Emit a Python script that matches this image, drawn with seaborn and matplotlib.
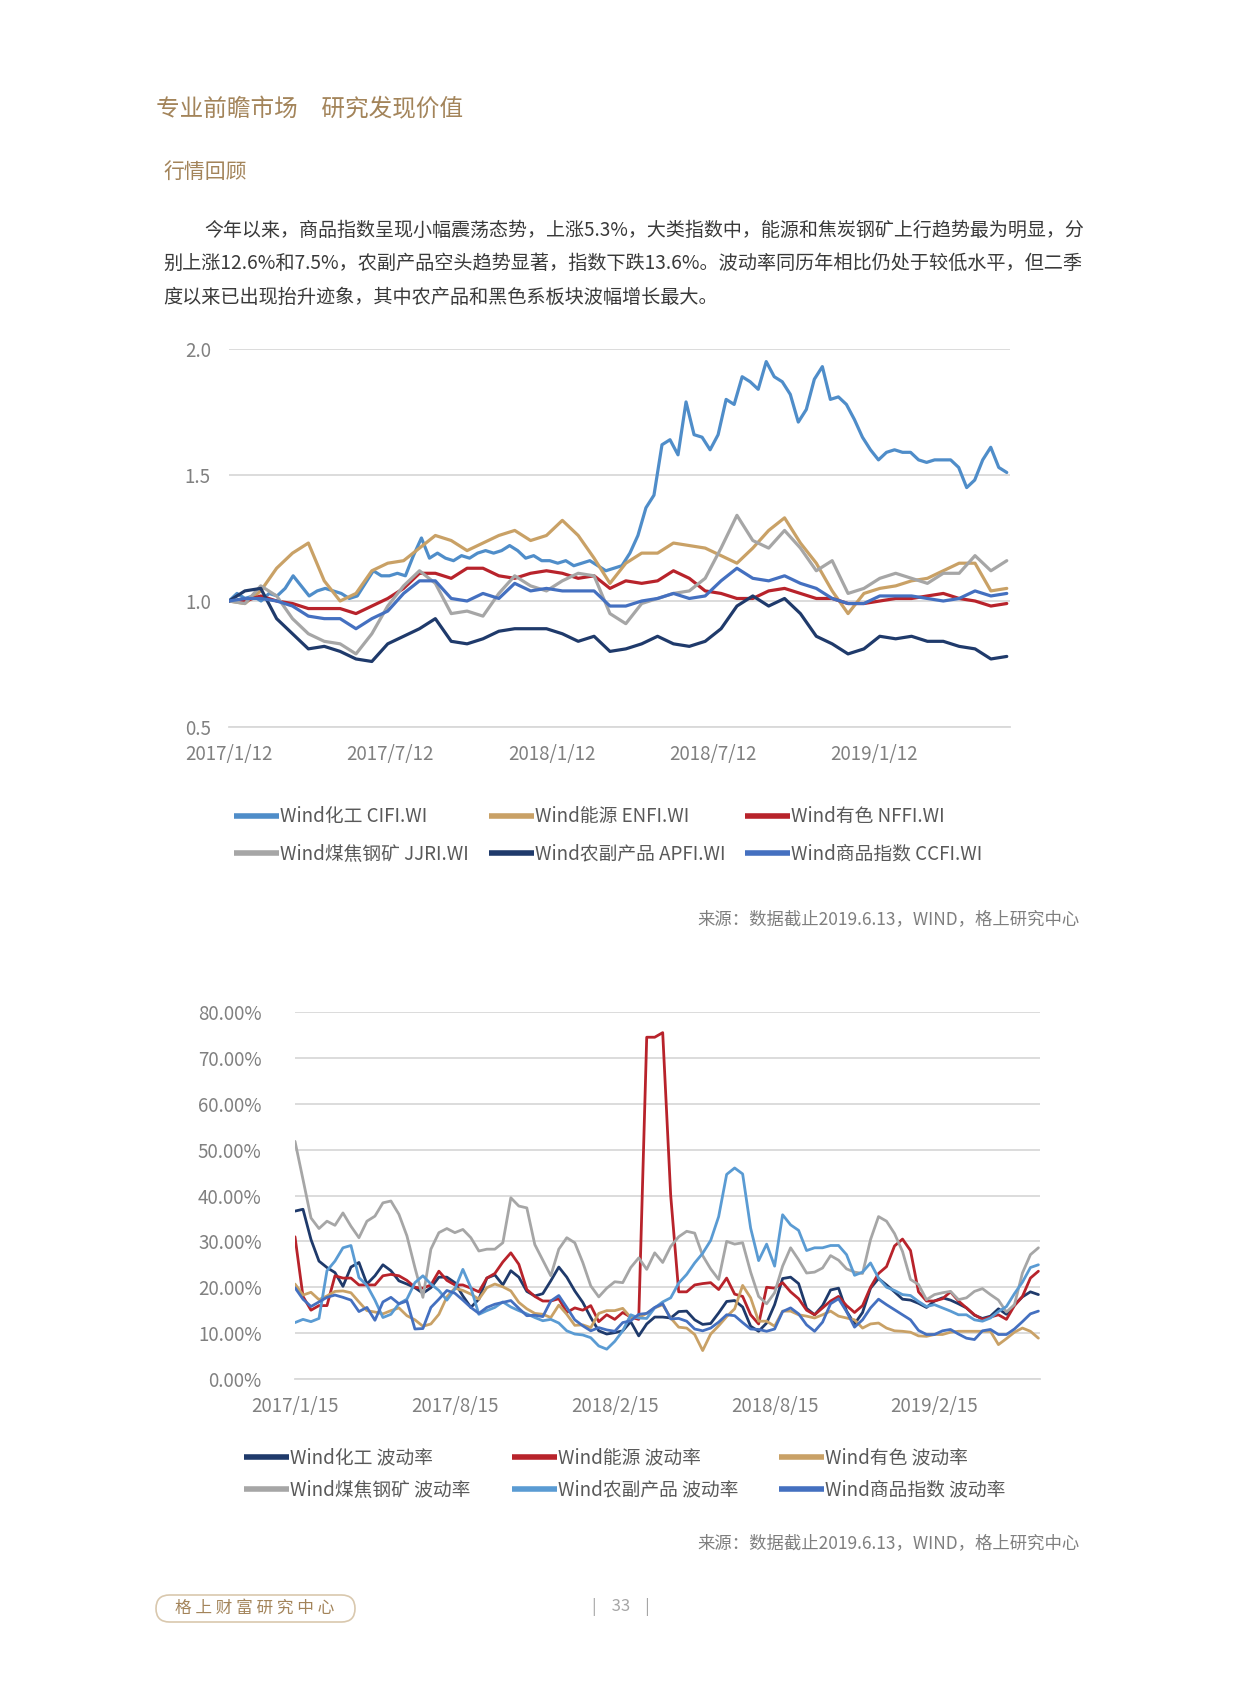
import numpy as np
import pandas as pd
import matplotlib
matplotlib.use("Agg")
import matplotlib.pyplot as plt
import seaborn as sns
from matplotlib.lines import Line2D
from matplotlib.patches import FancyBboxPatch

# ---------------- data: chart 1 (index, base = 1.0) ----------------
idx_span = 4.82   # half-year tick intervals from 2017/1/12 to 2019/6/13
idx_ticks = ["2017/1/12", "2017/7/12", "2018/1/12", "2018/7/12", "2019/1/12"]
idx_names = ["Wind化工 CIFI.WI", "Wind能源 ENFI.WI", "Wind有色 NFFI.WI",
             "Wind煤焦钢矿 JJRI.WI", "Wind农副产品 APFI.WI", "Wind商品指数 CCFI.WI"]
idx_colors = ["#4F8DC9", "#C9A166", "#B8232B", "#A6A6A6", "#1F3A6B", "#4470C0"]

cifi = [1.00, 1.03, 1.01, 1.02, 1.00, 1.03, 1.02, 1.05, 1.10, 1.06,
        1.02, 1.04, 1.05, 1.04, 1.03, 1.01, 1.02, 1.07, 1.12, 1.10,
        1.10, 1.11, 1.10, 1.18, 1.25, 1.17, 1.19, 1.17, 1.16, 1.18,
        1.17, 1.19, 1.20, 1.19, 1.20, 1.22, 1.20, 1.17, 1.18, 1.16,
        1.16, 1.15, 1.16, 1.14, 1.15, 1.16, 1.14, 1.12, 1.13, 1.14,
        1.19, 1.26, 1.37, 1.42, 1.62, 1.64, 1.58, 1.79, 1.66, 1.65,
        1.60, 1.66, 1.80, 1.78, 1.89, 1.87, 1.84, 1.95, 1.89, 1.87,
        1.82, 1.71, 1.76, 1.88, 1.93, 1.80, 1.81, 1.78, 1.72, 1.65,
        1.60, 1.56, 1.59, 1.60, 1.59, 1.59, 1.56, 1.55, 1.56, 1.56,
        1.56, 1.53, 1.45, 1.48, 1.56, 1.61, 1.53, 1.51]
enfi = [1.00, 0.99, 1.04, 1.13, 1.19, 1.23, 1.08, 1.00, 1.03, 1.12,
        1.15, 1.16, 1.21, 1.26, 1.24, 1.20, 1.23, 1.26, 1.28, 1.24,
        1.26, 1.32, 1.26, 1.17, 1.07, 1.15, 1.19, 1.19, 1.23, 1.22,
        1.21, 1.18, 1.15, 1.21, 1.28, 1.33, 1.23, 1.15, 1.04, 0.95,
        1.03, 1.05, 1.06, 1.08, 1.09, 1.12, 1.15, 1.15, 1.04, 1.05]
nffi = [1.00, 1.00, 1.02, 1.00, 0.99, 0.97, 0.97, 0.97, 0.95, 0.98,
        1.01, 1.05, 1.11, 1.11, 1.09, 1.13, 1.13, 1.10, 1.09, 1.11,
        1.12, 1.11, 1.09, 1.10, 1.05, 1.08, 1.07, 1.08, 1.12, 1.09,
        1.04, 1.03, 1.01, 1.01, 1.04, 1.05, 1.03, 1.01, 1.01, 0.99,
        0.99, 1.00, 1.01, 1.01, 1.02, 1.03, 1.01, 1.00, 0.98, 0.99]
jjri = [1.00, 0.99, 1.06, 1.02, 0.93, 0.87, 0.84, 0.83, 0.79, 0.87,
        0.98, 1.06, 1.12, 1.07, 0.95, 0.96, 0.94, 1.03, 1.10, 1.06,
        1.04, 1.08, 1.11, 1.10, 0.95, 0.91, 0.99, 1.01, 1.03, 1.04,
        1.09, 1.21, 1.34, 1.24, 1.21, 1.28, 1.21, 1.12, 1.16, 1.03,
        1.05, 1.09, 1.11, 1.09, 1.07, 1.11, 1.11, 1.18, 1.12, 1.16]
apfi = [1.00, 1.04, 1.05, 0.93, 0.87, 0.81, 0.82, 0.80, 0.77, 0.76,
        0.83, 0.86, 0.89, 0.93, 0.84, 0.83, 0.85, 0.88, 0.89, 0.89,
        0.89, 0.87, 0.84, 0.86, 0.80, 0.81, 0.83, 0.86, 0.83, 0.82,
        0.84, 0.89, 0.98, 1.02, 0.98, 1.01, 0.95, 0.86, 0.83, 0.79,
        0.81, 0.86, 0.85, 0.86, 0.84, 0.84, 0.82, 0.81, 0.77, 0.78]
ccfi = [1.00, 1.01, 1.01, 1.00, 0.98, 0.94, 0.93, 0.93, 0.89, 0.93,
        0.96, 1.03, 1.08, 1.08, 1.01, 1.00, 1.03, 1.01, 1.07, 1.04,
        1.05, 1.04, 1.04, 1.04, 0.98, 0.98, 1.00, 1.01, 1.03, 1.01,
        1.02, 1.08, 1.13, 1.09, 1.08, 1.10, 1.07, 1.05, 1.01, 0.99,
        0.99, 1.02, 1.02, 1.02, 1.01, 1.00, 1.01, 1.04, 1.02, 1.03]

# ---------------- data: chart 2 (volatility, %) ----------------
vol_span = 4.65
vol_ticks = ["2017/1/15", "2017/8/15", "2018/2/15", "2018/8/15", "2019/2/15"]
vol_names = ["Wind化工 波动率", "Wind能源 波动率", "Wind有色 波动率",
             "Wind煤焦钢矿 波动率", "Wind农副产品 波动率", "Wind商品指数 波动率"]
vol_colors = ["#1F3A6B", "#B8232B", "#C9A166", "#A6A6A6", "#5A9BD3", "#4470C0"]

vol_chem = [36.6, 37, 30.4, 25.7, 24.3, 23.2, 20.2, 24.4, 25.4, 20.7,
            22.5, 24.9, 23.6, 21.4, 20.7, 19.9, 18.7, 19.9, 22.2, 22.2,
            21, 18.1, 15.6, 17.4, 22, 22.7, 20.5, 23.6, 22.2, 19.1,
            18.1, 18.6, 21.4, 24.4, 22.2, 19.2, 16.7, 13.4, 10.5, 9.8,
            10.1, 10.5, 12.5, 9.4, 12, 13.5, 13.5, 13.3, 14.7, 14.8,
            12.9, 11.9, 12.1, 14.4, 16.9, 17.1, 15.7, 11.5, 10.4, 12.2,
            16.2, 21.9, 22.2, 20.8, 15.4, 14, 16, 19.4, 19.8, 14.8,
            12, 14.5, 19.8, 21.9, 20.5, 19, 17.4, 17.2, 16.5, 15.6,
            17, 17.7, 17.2, 16.4, 15.5, 13.9, 13.2, 13.7, 15.3, 14.1,
            16.1, 17.9, 19, 18.4]
vol_energy = [31, 18, 15, 16, 16, 22.5, 22, 22, 20.5, 20.5,
              20.5, 22.5, 22.8, 22.5, 21.5, 20, 19.8, 20.5, 23.5, 21.5,
              20.5, 20.5, 19.8, 19, 22, 23, 25.5, 27.5, 25, 19.5,
              18, 17, 17, 17.5, 14.5, 15.5, 15, 16, 12.5, 14,
              13, 14.5, 13.5, 13, 74.5, 74.5, 75.5, 40, 19, 19,
              20.5, 20.8, 21, 19.5, 22, 18.5, 18, 14, 12, 20,
              19.8, 21, 19, 17.5, 15, 14, 15.5, 17, 18, 16,
              14.5, 16, 20, 23, 24.5, 29, 30.5, 28, 19, 17,
              17, 17.5, 19, 17, 15.5, 14, 13, 13.5, 14, 13,
              16, 18, 22, 23.5]
vol_nonfer = [20.7, 18.3, 18.9, 17.3, 18.1, 19.1, 19.2, 18.8, 16.8, 14.9,
              14.6, 14.2, 14.9, 15.5, 13.8, 12.9, 11.5, 12, 14.1, 17.9,
              19.8, 19.3, 18.5, 17.4, 19.9, 20.7, 20.1, 19.2, 16.7, 15.3,
              14.3, 14.1, 13.4, 16.1, 14.1, 11.7, 11.8, 11.2, 14.3, 14.9,
              14.9, 15.4, 13.4, 13.4, 14.3, 15.5, 16.2, 13.3, 11.3, 11.1,
              9.7, 6.2, 9.8, 11.6, 13.6, 15.3, 20.4, 17.7, 12.6, 12.6,
              11.5, 14.8, 14.8, 14, 13.7, 13.3, 14, 14.8, 13.7, 13.3,
              12.9, 11.1, 12, 12.2, 11.1, 10.5, 10.4, 10.2, 9.4, 9.3,
              9.7, 9.7, 10.2, 10.4, 10.4, 10.4, 10.4, 10.4, 7.5, 8.8,
              10.2, 11.1, 10.4, 8.9]
vol_coal = [51.8, 43.5, 35.1, 32.8, 34.4, 33.5, 36.2, 33.3, 30.8, 34.4,
            35.5, 38.4, 38.8, 35.9, 31.2, 24.3, 17.8, 28.3, 31.9, 32.8,
            31.9, 32.6, 30.8, 27.9, 28.3, 28.3, 29.7, 39.5, 37.7, 37.3,
            29.3, 25.9, 22.5, 28.3, 30.8, 29.7, 25.4, 20.3, 17.9, 19.8,
            21.2, 21, 24.3, 26.4, 23.9, 27.5, 25.4, 28.9, 31, 32.2,
            31.8, 26.9, 24, 21.7, 30, 29.4, 29.7, 23.3, 18, 16.4,
            18.8, 24.6, 28.6, 26, 23.1, 23.3, 24.2, 26.9, 25.9, 24,
            23.3, 23, 30.4, 35.4, 34.4, 31.7, 27.8, 21.7, 20.6, 17.3,
            18.4, 18.8, 19.1, 17.3, 17.7, 19.1, 19.7, 18.4, 17.2, 14.6,
            16.2, 23.1, 27.1, 28.6]
vol_agri = [12.3, 13, 12.5, 13.2, 23.6, 25.7, 28.6, 29.1, 22.1, 20.4,
            17.2, 13.4, 14.1, 16.4, 17.4, 21, 22.5, 20.7, 19.3, 17.2,
            19.6, 23.9, 19.9, 14.1, 14.9, 15.6, 16.8, 15.7, 14.9, 14.2,
            13.4, 12.7, 13, 12.2, 10.5, 9.8, 9.6, 9, 7.2, 6.5,
            8.2, 10.5, 14, 13.3, 13.2, 15.5, 16.8, 17.7, 20.9, 22.8,
            25.3, 27.4, 30.2, 35.4, 44.6, 46, 44.7, 32.9, 25.8, 29.4,
            24.6, 35.8, 33.6, 32.4, 28, 28.6, 28.6, 29.1, 29.1, 27.1,
            22.6, 23.3, 25.3, 22, 20, 19.3, 18.4, 18.2, 16.9, 15.8,
            16.2, 15.5, 14.8, 14, 14, 12.9, 12.6, 13.3, 14.7, 15.8,
            18.6, 21.1, 24.3, 24.9]
vol_ccfi = [19.9, 17.4, 15.8, 16.8, 17.8, 18.3, 17.8, 17.2, 14.7, 15.6,
            12.8, 16.8, 17.8, 16.4, 17, 10.9, 11, 15.6, 17.4, 19.3,
            18.7, 17.2, 15.6, 14.3, 15.6, 16.3, 16.7, 17.1, 15.4, 13.8,
            13.9, 13.6, 17, 18.2, 15.6, 12.9, 11.6, 10.5, 11.2, 10.7,
            10.4, 12.3, 12.7, 14.1, 14.3, 15.6, 16.4, 13.1, 13.2, 12.6,
            10.9, 10.5, 11.1, 12.4, 14, 13.8, 12.3, 10.9, 10.8, 10.4,
            10.9, 14.7, 15.5, 14.2, 11.8, 10.4, 12.4, 16.4, 17.5, 14.7,
            11.3, 12.9, 15.5, 17.4, 16.2, 15.1, 14, 12.9, 10.6, 9.7,
            9.7, 10.5, 10.8, 9.8, 8.9, 8.6, 10.5, 10.8, 9.7, 9.7,
            10.9, 12.5, 14.2, 14.8]

# ---------------- texts ----------------
header = "专业前瞻市场　研究发现价值"
section = "行情回顾"
para = ["今年以来，商品指数呈现小幅震荡态势，上涨5.3%，大类指数中，能源和焦炭钢矿上行趋势最为明显，分",
        "别上涨12.6%和7.5%，农副产品空头趋势显著，指数下跌13.6%。波动率同历年相比仍处于较低水平，但二季",
        "度以来已出现抬升迹象，其中农产品和黑色系板块波幅增长最大。"]
source = "来源：数据截止2019.6.13，WIND，格上研究中心"
footer = "格 上 财 富 研 究 中 心"
page = "|    33    |"


def long_df(names, arrays, span):
    frames = []
    for n, v in zip(names, arrays):
        frames.append(pd.DataFrame({"period": np.linspace(0, span, len(v)),
                                    "value": v, "series": n}))
    return pd.concat(frames, ignore_index=True)


sns.set_theme(style="white")
plt.rcParams["font.family"] = ["Noto Sans CJK SC", "DejaVu Sans"]
plt.rcParams["lines.solid_joinstyle"] = "round"
plt.rcParams["lines.solid_capstyle"] = "round"

W, H = 1245, 1686
fig = plt.figure(figsize=(W / 100, H / 100), dpi=100)
fig.patch.set_facecolor("white")


def px_axes(l, t, r, b):
    return fig.add_axes([l / W, 1 - b / H, (r - l) / W, (b - t) / H])


GOLD = "#A3845A"
TICK = "#808080"
GRID = "#D9D9D9"

fig.text(156 / W, 1 - 110 / H, header, fontsize=17, color=GOLD, va="center", ha="left")
fig.text(163 / W, 1 - 172 / H, section, fontsize=15, color=GOLD, va="center", ha="left")
for i, (line, y) in enumerate(zip(para, [230, 263, 297])):
    x = 204 if i == 0 else 163
    fs = 13.7 if i == 0 else 13.8
    fig.text(x / W, 1 - y / H, line, fontsize=fs, color="#3A3A3A", va="center", ha="left")


def style_axes(ax, xlabels, pad_y):
    ax.set_facecolor("white")
    for s in ["left", "right", "top"]:
        ax.spines[s].set_visible(False)
    ax.spines["bottom"].set_color(GRID)
    ax.spines["bottom"].set_linewidth(1.3)
    ax.grid(axis="y", color=GRID, linewidth=1.3)
    ax.grid(axis="x", visible=False)
    ax.set_axisbelow(True)
    ax.set_xticks(range(len(xlabels)))
    ax.set_xticklabels(xlabels)
    ax.tick_params(axis="x", length=5, width=1.2, color=GRID, direction="out",
                   labelsize=13.5, labelcolor=TICK, pad=7.5)
    ax.tick_params(axis="y", length=0, labelsize=13.5, labelcolor=TICK, pad=pad_y)
    ax.set_xlabel("")
    ax.set_ylabel("")


# ---------------- chart 1 ----------------
ax1 = px_axes(229, 349, 1010, 727)
df1 = long_df(idx_names, [cifi, enfi, nffi, jjri, apfi, ccfi], idx_span)
sns.lineplot(data=df1, x="period", y="value", hue="series", hue_order=idx_names,
             palette=idx_colors, linewidth=2.3, legend=False, estimator=None, ax=ax1)
ax1.set_xlim(0, 4.84)
ax1.set_ylim(0.5, 2.0)
ax1.set_yticks([0.5, 1.0, 1.5, 2.0])
ax1.set_yticklabels([f"{v:.1f}" for v in [0.5, 1.0, 1.5, 2.0]])
style_axes(ax1, idx_ticks, 13)

# ---------------- chart 2 ----------------
ax2 = px_axes(295, 1012, 1040, 1379)
df2 = long_df(vol_names, [vol_chem, vol_energy, vol_nonfer, vol_coal, vol_agri, vol_ccfi], vol_span)
sns.lineplot(data=df2, x="period", y="value", hue="series", hue_order=vol_names,
             palette=vol_colors, linewidth=2.0, legend=False, estimator=None, ax=ax2)
ax2.set_xlim(0, 4.66)
ax2.set_ylim(0, 80)
yt = list(range(0, 81, 10))
ax2.set_yticks(yt)
ax2.set_yticklabels([f"{v:.2f}%" for v in yt])
style_axes(ax2, vol_ticks, 24)


# ---------------- legends ----------------
def put_legend(names, colors, cols_x, rows_y):
    for i, (n, c) in enumerate(zip(names, colors)):
        x = cols_x[i % 3]
        y = rows_y[i // 3]
        h = Line2D([], [], color=c, lw=4, solid_capstyle="butt")
        fig.legend([h], [n], loc="center left", bbox_to_anchor=(x / W, 1 - y / H),
                   frameon=False, fontsize=13.5, handlelength=2.4, handletextpad=0.05,
                   borderpad=0, borderaxespad=0, labelcolor="#595959")


put_legend(idx_names, idx_colors, [234, 489, 745], [817, 854])
put_legend(vol_names, vol_colors, [244, 512, 779], [1458, 1490])

fig.text(1080 / W, 1 - 919 / H, source, fontsize=12.5, color="#7F7F7F", ha="right", va="center")
fig.text(1080 / W, 1 - 1543 / H, source, fontsize=12.5, color="#7F7F7F", ha="right", va="center")

# ---------------- footer ----------------
box = FancyBboxPatch((1.56, (H - 1622) / 100), 1.99, 0.27,
                     boxstyle="round,pad=0,rounding_size=0.135",
                     transform=fig.dpi_scale_trans, facecolor="white",
                     edgecolor="#D9C8AE", linewidth=1.2)
fig.add_artist(box)
fig.text(255 / W, 1 - 1608 / H, footer, fontsize=12, color=GOLD, ha="center", va="center")
fig.text(621 / W, 1 - 1607 / H, page, fontsize=12, color="#A6A6A6", ha="center", va="center")

fig.savefig("out.png", dpi=100, facecolor="white")
